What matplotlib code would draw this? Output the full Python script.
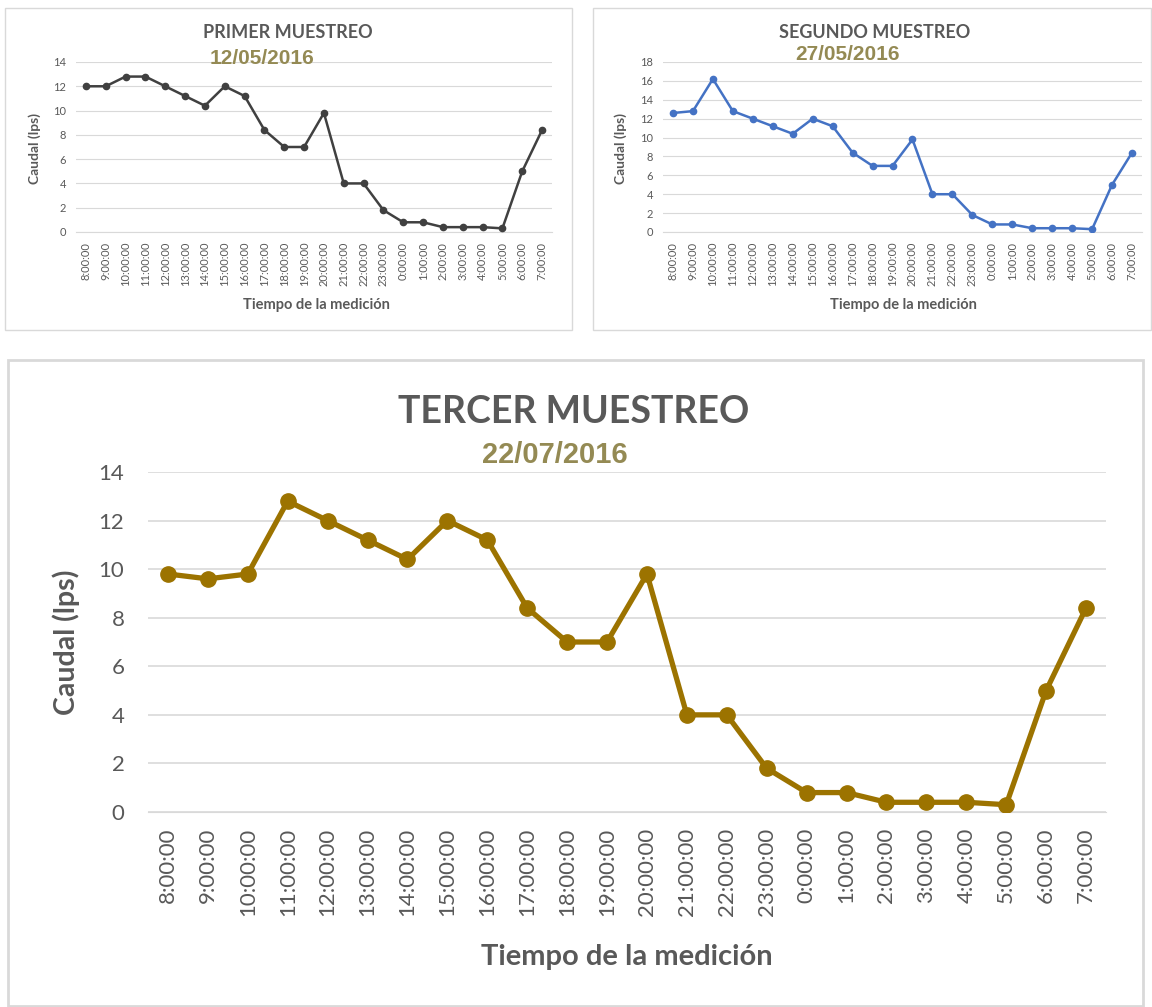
import matplotlib
matplotlib.use("Agg")
import matplotlib.pyplot as plt
from matplotlib.patches import Rectangle

# Datos
horas = ["8:00:00", "9:00:00", "10:00:00", "11:00:00", "12:00:00", "13:00:00",
         "14:00:00", "15:00:00", "16:00:00", "17:00:00", "18:00:00", "19:00:00",
         "20:00:00", "21:00:00", "22:00:00", "23:00:00", "0:00:00", "1:00:00",
         "2:00:00", "3:00:00", "4:00:00", "5:00:00", "6:00:00", "7:00:00"]

primer = [12, 12, 12.8, 12.8, 12, 11.2, 10.4, 12, 11.2, 8.4, 7, 7,
          9.8, 4, 4, 1.8, 0.8, 0.8, 0.4, 0.4, 0.4, 0.3, 5, 8.4]
segundo = [12.6, 12.8, 16.2, 12.8, 12, 11.2, 10.4, 12, 11.2, 8.4, 7, 7,
           9.8, 4, 4, 1.8, 0.8, 0.8, 0.4, 0.4, 0.4, 0.3, 5, 8.4]
tercer = [9.8, 9.6, 9.8, 12.8, 12, 11.2, 10.4, 12, 11.2, 8.4, 7, 7,
          9.8, 4, 4, 1.8, 0.8, 0.8, 0.4, 0.4, 0.4, 0.3, 5, 8.4]

W, H = 1152, 1007
FONT = "Lato"
GRIS = "#595959"
GRID = "#D9D9D9"
FECHA = "#948A54"

fig = plt.figure(figsize=(W / 100, H / 100), dpi=100)


def px(x, y):
    # pixel coords (top-left origin) -> figure fraction
    return x / W, 1 - y / H


def box(x0, y0, x1, y1, lw):
    fig.patches.append(Rectangle(px(x0, y1), (x1 - x0) / W, (y1 - y0) / H,
                                 transform=fig.transFigure, fill=False,
                                 edgecolor=GRID, linewidth=lw))


def panel(x0, y0, x1, y1, serie, color, ymax, tick_fs, pad_y, pad_x, lw, ms):
    l, b = px(x0, y1)
    ax = fig.add_axes([l, b, (x1 - x0) / W, (y1 - y0) / H])
    xs = range(len(horas))
    ax.plot(xs, serie, color=color, linewidth=lw, marker="o", markersize=ms,
            solid_joinstyle="round", zorder=3)
    ax.set_xlim(-0.5, len(horas) - 0.5)
    ax.set_ylim(0, ymax)
    ax.set_yticks(range(0, ymax + 1, 2))
    ax.set_xticks(list(xs))
    ax.set_xticklabels(horas, rotation=90, va="top")
    ax.grid(axis="y", color=GRID, linewidth=1.2 if lw > 2 else 0.8)
    ax.set_axisbelow(True)
    for s in ax.spines.values():
        s.set_visible(False)
    ax.spines["bottom"].set_visible(True)
    ax.spines["bottom"].set_color(GRID)
    ax.tick_params(axis="both", length=0, labelcolor=GRIS, labelsize=tick_fs)
    ax.tick_params(axis="y", pad=pad_y)
    ax.tick_params(axis="x", pad=pad_x)
    for t in ax.get_xticklabels() + ax.get_yticklabels():
        t.set_fontfamily(FONT)
    return ax


# Primer muestreo
box(5, 8, 572, 330, 1.0)
ax1 = panel(76, 62, 552, 232, primer, "#404040", 14, 8, 7, 7, 1.8, 4.5)
fig.text(*px(288, 33), "PRIMER MUESTREO", ha="center", va="center",
         fontsize=13, fontweight="bold", color=GRIS, family=FONT)
fig.text(*px(262, 58), "12/05/2016", ha="center", va="center",
         fontsize=15, fontweight="bold", color=FECHA, family="Liberation Sans")
fig.text(*px(35, 148), "Caudal (lps)", ha="center", va="center", rotation=90,
         fontsize=10, fontweight="bold", color=GRIS, family=FONT)
fig.text(*px(316, 305), "Tiempo de la medición", ha="center", va="center",
         fontsize=10.5, fontweight="bold", color=GRIS, family=FONT)

# Segundo muestreo
box(593, 8, 1151, 330, 1.0)
ax2 = panel(663, 62, 1142, 232, segundo, "#4472C4", 18, 8, 7, 7, 1.8, 4.5)
fig.text(*px(875, 33), "SEGUNDO MUESTREO", ha="center", va="center",
         fontsize=13, fontweight="bold", color=GRIS, family=FONT)
fig.text(*px(848, 54), "27/05/2016", ha="center", va="center",
         fontsize=15, fontweight="bold", color=FECHA, family="Liberation Sans")
fig.text(*px(621, 148), "Caudal (lps)", ha="center", va="center", rotation=90,
         fontsize=10, fontweight="bold", color=GRIS, family=FONT)
fig.text(*px(903, 305), "Tiempo de la medición", ha="center", va="center",
         fontsize=10.5, fontweight="bold", color=GRIS, family=FONT)

# Tercer muestreo
box(8, 360, 1143, 1006, 2.0)
ax3 = panel(148, 472, 1106, 812, tercer, "#9C7300", 14, 16, 17, 11, 3.8, 11)
fig.text(*px(574, 412), "TERCER MUESTREO", ha="center", va="center",
         fontsize=27, fontweight="bold", color=GRIS, family=FONT)
fig.text(*px(555, 455), "22/07/2016", ha="center", va="center",
         fontsize=21, fontweight="bold", color=FECHA, family="Liberation Sans")
fig.text(*px(66, 642), "Caudal (lps)", ha="center", va="center", rotation=90,
         fontsize=20.5, fontweight="bold", color=GRIS, family=FONT)
fig.text(*px(627, 957), "Tiempo de la medición", ha="center", va="center",
         fontsize=21, fontweight="bold", color=GRIS, family=FONT)

fig.savefig("out.png", dpi=100)
